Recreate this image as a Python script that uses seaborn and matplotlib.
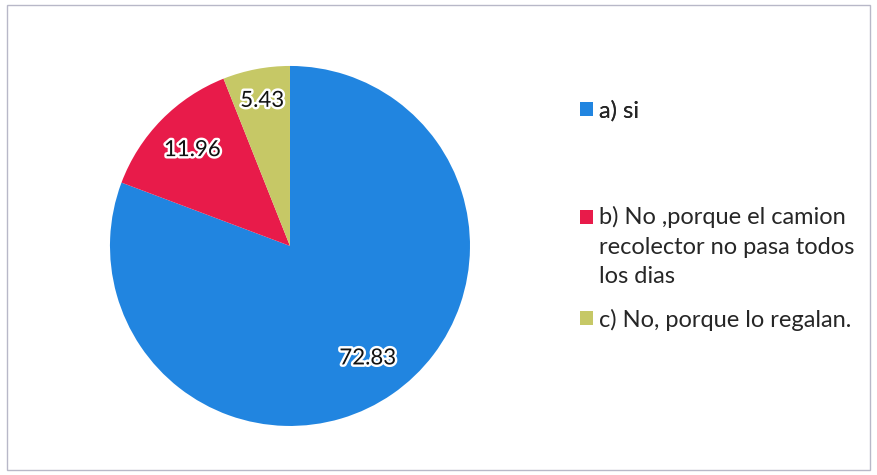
import matplotlib
matplotlib.use("Agg")
import matplotlib.pyplot as plt
import matplotlib.patheffects as pe
from matplotlib.patches import Patch, Rectangle
from matplotlib.legend_handler import HandlerPatch
import seaborn as sns

# Data
labels = ["a) si",
          "b) No ,porque el camion\nrecolector no pasa todos\nlos dias",
          "c) No, porque lo regalan."]
values = [72.83, 11.96, 5.43]
colors = ["#2185E0", "#E81B4A", "#C6C866"]

sns.set_theme(style="white")
plt.rcParams["font.family"] = ["Lato", "DejaVu Sans"]

FS = 17
LSP = 1.5

fig = plt.figure(figsize=(8.77, 4.75), dpi=100)
ax = fig.add_axes([0.1254, 0.1032, 0.4105, 0.758])

wedges, texts, autotexts = ax.pie(
    values, colors=colors, startangle=90, counterclock=False,
    autopct=lambda p: "", pctdistance=0.76, radius=1,
    wedgeprops=dict(linewidth=0),
)
# value labels (show raw values, not normalised percentages)
for t, v in zip(autotexts, values):
    t.set_text(f"{v:.2f}")
    t.set_fontsize(16)
    t.set_color("#111111")
    t.set_path_effects([pe.withStroke(linewidth=3.5, foreground="white")])
# small slice label sits a bit further out
x, y = autotexts[2].get_position()
autotexts[2].set_position((x * 1.08, y * 1.08))

ax.set_xlim(-1, 1)
ax.set_ylim(-1, 1)
ax.set_aspect("equal")
ax.axis("off")


# marker of a wrapped entry goes next to its first line
def top_square(legend, orig_handle, xdescent, ydescent, width, height, fontsize):
    return Rectangle((-xdescent, -ydescent + 0.843 * FS * LSP), width, height)


handles = [Patch(facecolor=c, edgecolor="none") for c in colors]
common = dict(loc="upper left", frameon=False, fontsize=FS,
              handlelength=0.55, handleheight=0.55, handletextpad=0.25,
              borderpad=0, borderaxespad=0)
leg1 = fig.legend(handles[:1], labels[:1], bbox_to_anchor=(0.661, 0.79), **common)
fig.add_artist(leg1)
leg2 = fig.legend(handles[1:], labels[1:], bbox_to_anchor=(0.661, 0.566),
                  labelspacing=0.9,
                  handler_map={handles[1]: HandlerPatch(patch_func=top_square)},
                  **common)
for t in leg2.get_texts():
    t.set_linespacing(LSP)

# chart border
fig.patches.append(Rectangle((0.008, 0.01), 0.984, 0.98, transform=fig.transFigure,
                             fill=False, edgecolor="#b8b8c8", linewidth=1))

fig.savefig("out.png", dpi=100)
